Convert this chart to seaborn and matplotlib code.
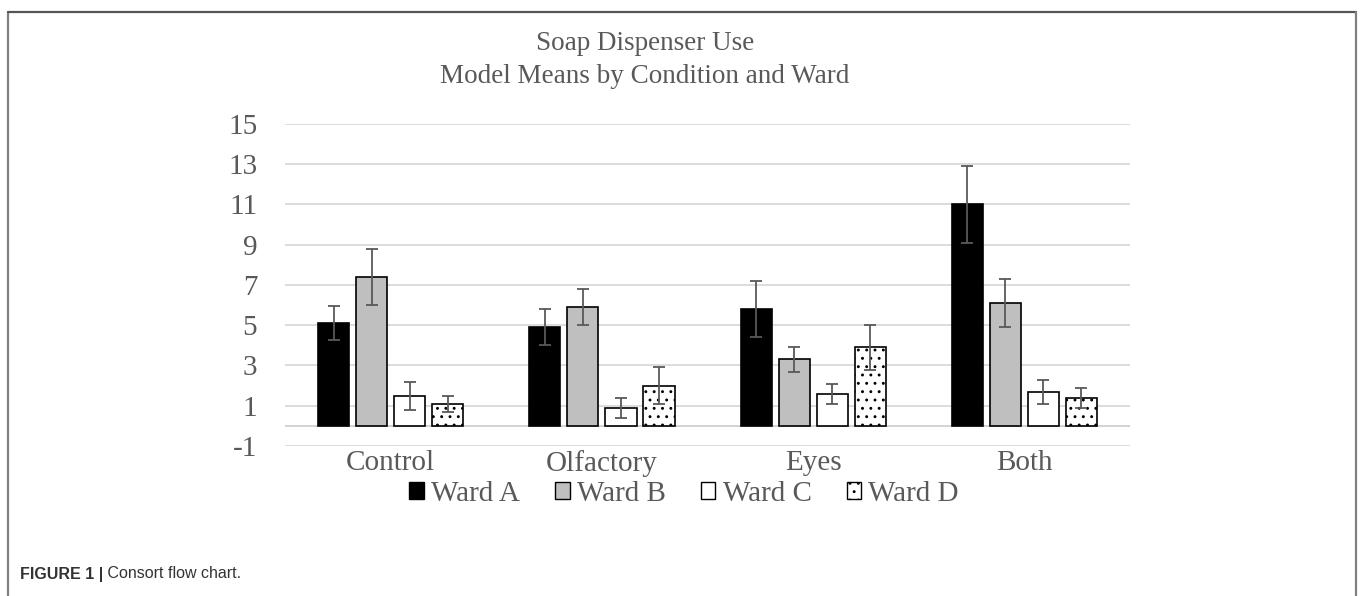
import pandas as pd
import seaborn as sns
import matplotlib.pyplot as plt
from matplotlib.patches import Patch
from matplotlib.lines import Line2D

# data
conditions = ["Control", "Olfactory", "Eyes", "Both"]
wards = ["Ward A", "Ward B", "Ward C", "Ward D"]
ward_a = [5.1, 4.9, 5.8, 11.0]
ward_b = [7.4, 5.9, 3.3, 6.1]
ward_c = [1.5, 0.9, 1.6, 1.7]
ward_d = [1.1, 2.0, 3.9, 1.4]
err_a = [0.85, 0.9, 1.4, 1.9]
err_b = [1.4, 0.9, 0.6, 1.2]
err_c = [0.7, 0.5, 0.5, 0.6]
err_d = [0.4, 0.9, 1.1, 0.5]
yticks = [-1, 1, 3, 5, 7, 9, 11, 13, 15]

means = [ward_a, ward_b, ward_c, ward_d]
errs = [err_a, err_b, err_c, err_d]
rows = []
for w, vals in zip(wards, means):
    for c, v in zip(conditions, vals):
        rows.append({"Condition": c, "Ward": w, "Mean": v})
df = pd.DataFrame(rows)

sns.set_style("white")
plt.rcParams['font.family'] = ['Liberation Serif', 'DejaVu Serif']
plt.rcParams['axes.unicode_minus'] = False
plt.rcParams['hatch.color'] = 'black'
plt.rcParams['hatch.linewidth'] = 0.9

grey_txt = "#595959"
fills = ["black", "#bfbfbf", "white", "white"]

fig = plt.figure(figsize=(13.6, 5.96), dpi=100)
ax = fig.add_axes([0.2096, 0.2517, 0.6213, 0.5403])
sns.barplot(data=df, x="Condition", y="Mean", hue="Ward", palette=fills,
            width=0.72, gap=0.18, edgecolor="black", linewidth=1.2,
            errorbar=None, legend=False, saturation=1, ax=ax)

# dotted ward D
for bar in ax.containers[3]:
    bar.set_hatch("..")

# error bars on top of each bar
for cont, ee in zip(ax.containers, errs):
    for bar, e in zip(cont, ee):
        ax.errorbar(bar.get_x() + bar.get_width() / 2, bar.get_height(), yerr=e,
                    color=grey_txt, capsize=4.5, elinewidth=1.3, capthick=1.3,
                    zorder=5)

ax.set_ylim(-1, 15)
ax.set_yticks(yticks)
ax.set_xlim(-0.5, 3.5)
ax.set_axisbelow(True)
ax.yaxis.grid(True, color="#d9d9d9", linewidth=1.3)
ax.axhline(0, color="#cfcfcf", linewidth=1.3, zorder=0.5)
for s in ax.spines.values():
    s.set_visible(False)
ax.tick_params(axis="y", length=0, pad=20, labelsize=21, labelcolor=grey_txt)
ax.tick_params(axis="x", length=0, pad=3, labelsize=21, labelcolor=grey_txt)
ax.set_xlabel("")
ax.set_ylabel("")

fig.text(0.474, 1 - 60 / 596, "Soap Dispenser Use\nModel Means by Condition and Ward",
         ha="center", va="center", fontsize=19.5, color=grey_txt, linespacing=1.38)

handles = [Patch(facecolor=f, edgecolor="black", linewidth=1.0) for f in fills]
handles[3].set_hatch("..")
fig.legend(handles, wards, loc="center", bbox_to_anchor=(0.503, 1 - 494 / 596),
           ncol=4, frameon=False, handlelength=0.5, handleheight=0.5,
           handletextpad=0.25, columnspacing=1.2, fontsize=21,
           labelcolor=grey_txt)

# caption
cap1 = fig.text(0.0147, 1 - 574 / 596, "FIGURE 1 |", family="Liberation Sans",
                fontweight="bold", fontsize=11.5, color="#333333", va="center")
fig.canvas.draw()
bb = cap1.get_window_extent(fig.canvas.get_renderer())
fig.text(bb.x1 / fig.bbox.width, 1 - 574 / 596, " Consort flow chart.",
         family="Liberation Sans", fontsize=11.5, color="#333333", va="center")

# frame around figure
fig.add_artist(Line2D([0.0059, 0.0059], [0, 0.98], transform=fig.transFigure,
                      color="#808080", linewidth=1.6))
fig.add_artist(Line2D([0.0059, 0.997], [0.98, 0.98], transform=fig.transFigure,
                      color="#555555", linewidth=1.6))
fig.add_artist(Line2D([0.997, 0.997], [0, 0.98], transform=fig.transFigure,
                      color="#808080", linewidth=1.6))

fig.savefig("out.png", dpi=100)
